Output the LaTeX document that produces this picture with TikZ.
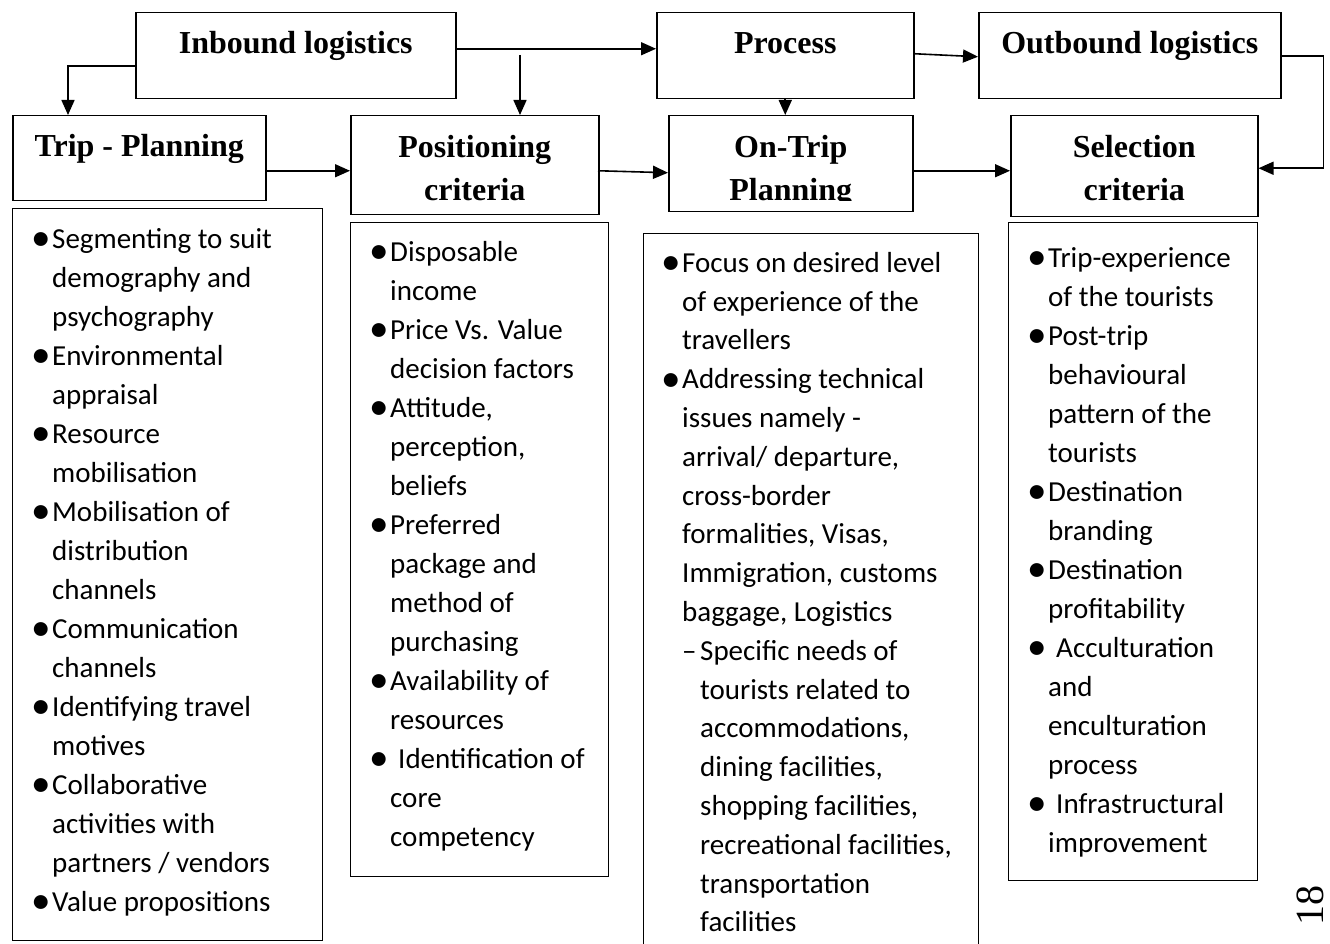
\documentclass[tikz,border=0pt]{standalone}
\usepackage{fontspec}
\setmainfont{Liberation Serif}
\newfontfamily\calibfont{Carlito}
\usetikzlibrary{arrows.meta,positioning,calc}

\tikzset{
  hbox/.style={draw,line width=1.5pt,anchor=north west,inner sep=0pt},
  htext/.style={font=\fontsize{32}{43}\selectfont\bfseries,inner sep=0pt,align=center},
  lbox/.style={draw,line width=1.2pt,anchor=north west,inner sep=0pt},
  ltext/.style={font=\calibfont\fontsize{29}{39}\selectfont,anchor=north west,inner sep=0pt,align=left},
  arr/.style={line width=1.6pt,-{Triangle[length=15pt,width=13pt]}},
}
\newcommand{\itm}[1][18pt]{\makebox[#1][l]{\hspace{-3pt}\makebox[0pt][l]{\raisebox{-2.3pt}{\scalebox{1.35}{\textbullet}}}}}
\newcommand{\lind}[1][18pt]{\hspace*{#1}}

\begin{document}
\begin{tikzpicture}[x=1pt,y=-1pt]
  \useasboundingbox (0,0) rectangle (1330,944);

  % top row
  \node[hbox,minimum width=320pt,minimum height=86pt] (inb) at (135,12) {};
  \node[hbox,minimum width=257pt,minimum height=86pt] (proc) at (656,12) {};
  \node[hbox,minimum width=302pt,minimum height=86pt] (outb) at (978,12) {};
  \node[htext] (inbT) at ([yshift=-33pt]inb.north) {\strut Inbound logistics};
  \node[htext] (procT) at ([yshift=-33pt]proc.north) {\strut Process};
  \node[htext] (outbT) at ([yshift=-33pt]outb.north) {\strut Outbound logistics};

  % second row
  \node[hbox,minimum width=253pt,minimum height=85pt] (trip) at (12,115) {};
  \node[hbox,minimum width=248pt,minimum height=99pt] (pos) at (350,115) {};
  \node[hbox,minimum width=244pt,minimum height=96pt] (ontrip) at (668,115) {};
  \node[hbox,minimum width=247pt,minimum height=101pt] (sel) at (1010,115) {};
  \node[htext] (tripT) at ([yshift=-33pt]trip.north) {\strut Trip - Planning};
  \node[htext] (posT) at ([yshift=-55pt]pos.north) {\strut Positioning\\\strut criteria};
  \begin{scope}
    \clip (668,115) rectangle (912,201);
    \node[htext] (ontripT) at ([yshift=-55pt]ontrip.north) {\strut On-Trip\\\strut Planning};
  \end{scope}
  \node[htext] (selT) at ([yshift=-55pt]sel.north) {\strut Selection\\\strut criteria};

  % connectors
  \coordinate (tripin) at (68,115);
  \coordinate (jn) at (520,55);
  \draw[arr] ([yshift=-10pt]inb.west) -| (tripin);
  \draw[arr] ([yshift=7pt]inb.east) -- ([yshift=7pt]proc.west);
  \draw[arr] (jn) -- (jn |- pos.north);
  \draw[arr] ([yshift=2pt]proc.east) -- ([yshift=-1pt]outb.west);
  \draw[arr] (proc.south) -- (proc.south |- ontrip.north);
  \draw[arr] (outb.east) -- ++(42,0) |- ([yshift=-2pt]sel.east);
  \draw[arr] ($(trip.east)+(0,12.5)$) -- ($(pos.west)+(0,5.5)$);
  \draw[arr] ($(pos.west)+(248,5.5)$) -- ($(ontrip.west)+(0,9)$);
  \draw[arr] ($(ontrip.east)+(0,7)$) -- ($(sel.west)+(0,4.5)$);

  % lists
  \node[lbox,minimum width=310pt,minimum height=732pt] (tripL) at (12,208) {};
  \node[lbox,minimum width=258pt,minimum height=654pt] (posL) at (350,222) {};
  \node[lbox,minimum width=335pt,minimum height=730pt] (ontripL) at (643,233) {};
  \node[lbox,minimum width=249pt,minimum height=658pt] (selL) at (1008,222) {};

  \node[ltext] (tripX) at (34,221) {\strut\itm Segmenting to suit\\
    \lind demography and\\
    \lind psychography\\
    \itm Environmental\\
    \lind appraisal\\
    \itm Resource\\
    \lind mobilisation\\
    \itm Mobilisation of\\
    \lind distribution\\
    \lind channels\\
    \itm Communication\\
    \lind channels\\
    \itm Identifying travel\\
    \lind motives\\
    \itm Collaborative\\
    \lind activities with\\
    \lind partners / vendors\\
    \itm Value propositions};

  \node[ltext] (posX) at (372,234) {\strut\itm Disposable\\
    \lind income\\
    \itm Price Vs. Value\\
    \lind decision factors\\
    \itm Attitude,\\
    \lind perception,\\
    \lind beliefs\\
    \itm Preferred\\
    \lind package and\\
    \lind method of\\
    \lind purchasing\\
    \itm Availability of\\
    \lind resources\\
    \itm[26pt]Identification of\\
    \lind core\\
    \lind competency};

  \node[ltext,font=\calibfont\fontsize{29}{38.8}\selectfont] (ontripX) at (664,245) {\strut\itm Focus on desired level\\
    \lind of experience of the\\
    \lind travellers\\
    \itm Addressing technical\\
    \lind issues namely -\\
    \lind arrival/ departure,\\
    \lind cross-border\\
    \lind formalities, Visas,\\
    \lind Immigration, customs\\
    \lind baggage, Logistics\\
    \lind\makebox[18pt][l]{–}Specific needs of\\
    \lind[36pt]tourists related to\\
    \lind[36pt]accommodations,\\
    \lind[36pt]dining facilities,\\
    \lind[36pt]shopping facilities,\\
    \lind[36pt]recreational facilities,\\
    \lind[36pt]transportation\\
    \lind[36pt]facilities};

  \node[ltext] (selX) at (1030,240) {\strut\itm Trip-experience\\
    \lind of the tourists\\
    \itm Post-trip\\
    \lind behavioural\\
    \lind pattern of the\\
    \lind tourists\\
    \itm Destination\\
    \lind branding\\
    \itm Destination\\
    \lind profitability\\
    \itm[26pt]Acculturation\\
    \lind and\\
    \lind enculturation\\
    \lind process\\
    \itm[26pt]Infrastructural\\
    \lind improvement};

  \node[rotate=90,font=\fontsize{40}{40}\selectfont,inner sep=0pt] (pgno) at (1310,905) {18};
\end{tikzpicture}
\end{document}
